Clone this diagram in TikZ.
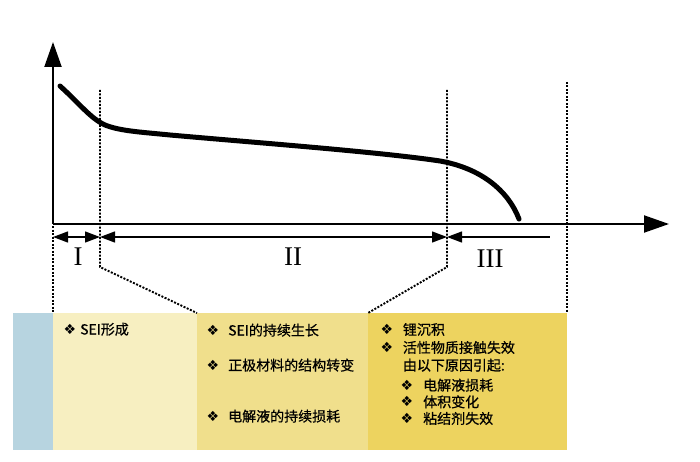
\documentclass[tikz,border=0pt]{standalone}
\usepackage{fontspec}
\setmainfont{Liberation Serif}
\newfontfamily\cjk[FakeBold=0.6]{Noto Sans CJK SC}
\newfontfamily\sym{DejaVu Sans}
\usetikzlibrary{arrows.meta}
\definecolor{boxblue}{RGB}{183,212,224}
\definecolor{boxA}{RGB}{247,239,193}
\definecolor{boxB}{RGB}{240,223,140}
\definecolor{boxC}{RGB}{237,211,95}
\tikzset{
  axis/.style={line width=2pt, -{Triangle[length=25pt,width=17pt]}},
  curve/.style={line width=5pt, line cap=round},
  dots/.style={line width=1.9pt, dash pattern=on 2pt off 1.5pt},
  dim/.style={line width=1.3pt},
  roman/.style={font=\fontsize{27}{27}\selectfont, anchor=base},
  txt/.style={font=\cjk\fontsize{14}{14}\selectfont, anchor=base west, inner sep=0pt},
  bul/.style={font=\sym\fontsize{14}{14}\selectfont, anchor=center, inner sep=0pt},
}
\begin{document}
\begin{tikzpicture}[x=1pt,y=-1pt]
\useasboundingbox (0,0) rectangle (700,462);
% boxes
\fill[boxblue] (12.7,313) rectangle (53,450);
\fill[boxA] (53,313) rectangle (197,450);
\fill[boxB] (197,313) rectangle (368,450);
\fill[boxC] (368,313) rectangle (567,450);
% coordinates
\coordinate (O) at (53,224);
\coordinate (Ytop) at (53,42);
\coordinate (Xend) at (669,224);
\coordinate (a) at (53,237);
\coordinate (b) at (100,237);
\coordinate (c) at (447,237);
\coordinate (d) at (550,237);
% dotted guides
\draw[dots] (53,226) -- (53,313);
\draw[dots] (100,90) -- (100,267) -- (197,313);
\draw[dots] (447,90) -- (447,267) -- (368,313);
\draw[dots] (567,82) -- (567,313);
% axes
\draw[axis] (O) -- (Ytop);
\draw[axis] (O) -- (Xend);
% curve
\draw[curve] (60,86) .. controls (80,104) and (90,118) .. (105,125)
  .. controls (120,131) and (140,132) .. (170,135)
  .. controls (260,143) and (380,152) .. (440,161)
  .. controls (480,168) and (508,190) .. (519,219);
% dimension arrows
\draw[dim, {Triangle[length=15pt,width=11pt]}-{Triangle[length=15pt,width=11pt]}] (a) -- (b);
\draw[dim, {Triangle[length=15pt,width=11pt]}-{Triangle[length=15pt,width=11pt]}] (b) -- (c);
\draw[dim, {Triangle[length=15pt,width=11pt]}-] (c) -- (d);
\node[roman] (r1) at (78,265) {I};
\node[roman] (r2) at (293,265) {II};
\node[roman] (r3) at (490,267) {III};
% box 1
\node[bul] (b1) at (70,329) {❖};
\node[txt] (t1) at (80,334.5) {SEI形成};
% box 2
\node[bul] (b2a) at (213,330) {❖};
\node[txt] (t2a) at (228,335.5) {SEI的持续生长};
\node[bul] (b2b) at (213,365) {❖};
\node[txt] (t2b) at (228,370.5) {正极材料的结构转变};
\node[bul] (b2c) at (213,416) {❖};
\node[txt] (t2c) at (228,421.5) {电解液的持续损耗};
% box 3
\node[bul] (b3a) at (387,329.3) {❖};
\node[txt] (t3a) at (402.7,334.8) {锂沉积};
\node[bul] (b3b) at (387,347.3) {❖};
\node[txt] (t3b) at (402.7,352.8) {活性物质接触失效};
\node[txt] (t3c) at (402.7,370.5) {由以下原因引起:};
\node[bul] (b3d) at (407,385) {❖};
\node[txt] (t3d) at (423,390.5) {电解液损耗};
\node[bul] (b3e) at (407,401.7) {❖};
\node[txt] (t3e) at (423,407.2) {体积变化};
\node[bul] (b3f) at (407,418.3) {❖};
\node[txt] (t3f) at (423,423.8) {粘结剂失效};
\end{tikzpicture}
\end{document}
